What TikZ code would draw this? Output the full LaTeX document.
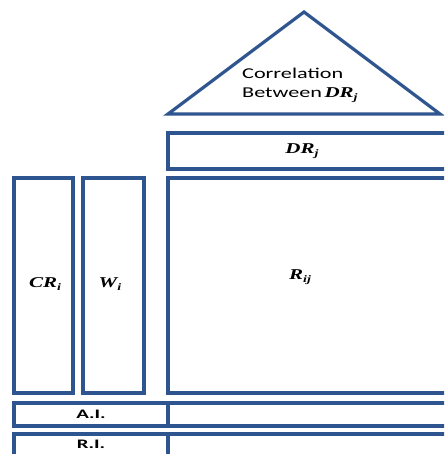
\documentclass[tikz,border=0pt]{standalone}
\usepackage{fontspec}
\setmainfont{Carlito}
\newfontfamily\mathish{Liberation Serif}
\definecolor{boxblue}{RGB}{47,85,145}
\newcommand{\wide}[1]{\scalebox{1.48}[1]{#1}}
\newcommand{\mysub}[2]{#1\raisebox{-0.35ex}{\fontsize{10}{11}\selectfont #2}}
\newcommand{\mvar}[2]{\scalebox{1.4}[1]{\mathish\fontsize{15}{17}\selectfont\bfseries\itshape\mysub{#1}{#2}}}
\tikzset{
  frame/.style={draw=boxblue, line width=3.2pt, line join=miter},
  lbl/.style={font=\fontsize{15}{17}\selectfont, inner sep=0pt},
  small/.style={font=\fontsize{13}{15}\selectfont\bfseries, inner sep=0pt}
}
\begin{document}
\begin{tikzpicture}[x=1pt,y=1pt]
\useasboundingbox (0,0) rectangle (444,-454);
\clip (0,0) rectangle (444,-454);
% triangle roof
\coordinate (tl) at (168,-114);
\coordinate (tt) at (304,-12);
\coordinate (tr) at (440,-114);
\draw[frame] (tl) -- (tt) -- (tr) -- cycle;
\node[lbl, anchor=base west] (corr) at (242,-79) {\wide{Correlation}};
\node[lbl, anchor=base west] (betw) at (242,-98) {\wide{Between}\,\mvar{DR}{j}};
% DR_j row
\draw[frame] (168,-133) rectangle (470,-169);
\node[inner sep=0pt] (dr) at (302,-151) {\mvar{DR}{j}};
% R_ij matrix
\draw[frame] (168,-178) rectangle (470,-393);
\node[inner sep=0pt] (rij) at (300,-277) {\mvar{R}{ij}};
% CR_i and W_i columns
\draw[frame] (14,-178) rectangle (73,-393);
\node[inner sep=0pt] (cr) at (45,-284) {\mvar{CR}{i}};
\draw[frame] (83,-178) rectangle (144,-393);
\node[inner sep=0pt] (w) at (110,-284) {\mvar{W}{i}};
% A.I. row
\draw[frame] (14,-403) rectangle (470,-426);
\coordinate (ait) at (168,-403);
\coordinate (aib) at (168,-426);
\draw[frame] (ait) -- (aib);
\node[small] (ai) at (91,-414) {\scalebox{1.6}[1]{A.I.}};
% R.I. row
\draw[frame] (14,-434) rectangle (470,-480);
\coordinate (rit) at (168,-434);
\coordinate (rib) at (168,-480);
\draw[frame] (rit) -- (rib);
\node[small] (ri) at (91,-444) {\scalebox{1.6}[1]{R.I.}};
\end{tikzpicture}
\end{document}
